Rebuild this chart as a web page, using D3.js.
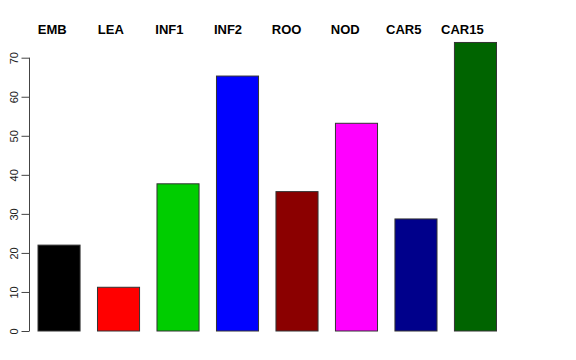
<!DOCTYPE html>
<html>
<head>
<meta charset="utf-8">
<script src="https://cdn.jsdelivr.net/npm/d3@7"></script>
<style>
  html, body { margin: 0; padding: 0; background: #fff; }
  svg { display: block; }
</style>
</head>
<body>
<svg id="chart" width="576" height="360"></svg>
<script>
const categories = ["EMB", "LEA", "INF1", "INF2", "ROO", "NOD", "CAR5", "CAR15"];
const values = [22.0, 11.2, 37.7, 65.3, 35.7, 53.2, 28.7, 73.9];
const colors = ["#000000", "#FF0000", "#00CD00", "#0000FF", "#8B0000", "#FF00FF", "#00008B", "#006400"];
const yTicks = [0, 10, 20, 30, 40, 50, 60, 70];

const svg = d3.select("#chart");

const x = d3.scaleBand()
  .domain(categories)
  .range([38, 496.5])
  .paddingInner(0.293)
  .paddingOuter(0);

// the top labels sit on their own, slightly narrower, evenly spaced grid
const xLabel = d3.scalePoint()
  .domain(categories)
  .range([52.2, 462.4]);

const y = d3.scaleLinear()
  .domain([0, 70])
  .range([331, 57.7]);

// bars
svg.append("g")
  .selectAll("rect")
  .data(categories)
  .join("rect")
  .attr("x", d => x(d))
  .attr("y", (d, i) => y(values[i]))
  .attr("width", x.bandwidth())
  .attr("height", (d, i) => y(0) - y(values[i]))
  .attr("fill", (d, i) => colors[i])
  .attr("stroke", "#333")
  .attr("stroke-width", 1);

// y axis
const yAxis = d3.axisLeft(y)
  .tickValues(yTicks)
  .tickSize(8)
  .tickPadding(0)
  .tickFormat(d3.format("d"));

const ag = svg.append("g")
  .attr("transform", "translate(29.5,0)")
  .call(yAxis);
ag.select(".domain").attr("stroke", "#444").attr("d", `M0,${y(0)}V${y(70)}`);
ag.selectAll(".tick line").attr("stroke", "#444");
ag.selectAll(".tick text")
  .attr("font-family", "Liberation Sans, Arial, Helvetica, sans-serif")
  .attr("font-size", 11)
  .attr("fill", "#222")
  .attr("text-anchor", "middle")
  .attr("x", 0)
  .attr("dy", 0)
  .attr("transform", "translate(-12,0) rotate(-90)");

// top category labels
svg.append("g")
  .selectAll("text")
  .data(categories)
  .join("text")
  .attr("x", d => xLabel(d))
  .attr("y", 34)
  .attr("text-anchor", "middle")
  .attr("font-family", "Liberation Sans, Arial, Helvetica, sans-serif")
  .attr("font-weight", "bold")
  .attr("font-size", 13)
  .attr("fill", "#000")
  .text(d => d);
</script>
</body>
</html>
